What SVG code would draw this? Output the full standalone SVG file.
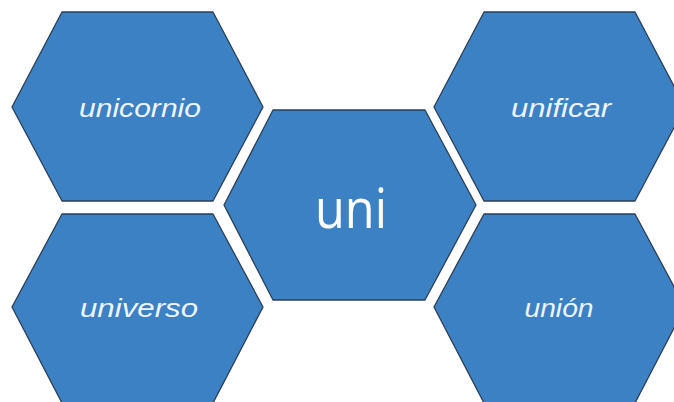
<svg xmlns="http://www.w3.org/2000/svg" width="674" height="402" viewBox="0 0 674 402">
<style>
.hex{fill:#3c81c4;stroke:#2b3f55;stroke-width:1.3;stroke-linejoin:round}
.lbl{font-family:"Liberation Sans",Arial,sans-serif;font-style:italic;font-size:26px;fill:#eef4fb;text-anchor:middle}
.main{font-family:"Open Sans","Liberation Sans",sans-serif;font-size:54px;fill:#ffffff;text-anchor:middle}
</style>
<rect width="674" height="402" fill="#ffffff"/>
<g id="connectors"></g>
<g id="unicornio">
<polygon class="hex" points="62,12 213,12 263,107 213,201 62,201 12,107"/>
<text class="lbl" x="140" y="117" textLength="122" lengthAdjust="spacingAndGlyphs">unicornio</text>
</g>
<g id="unificar">
<polygon class="hex" points="484,12 635,12 685,107 635,201 484,201 434,107"/>
<text class="lbl" x="561" y="117" textLength="100" lengthAdjust="spacingAndGlyphs">unificar</text>
</g>
<g id="uni">
<polygon class="hex" points="273,110 425,110 476,205 425,300 273,300 224,205"/>
<text class="main" x="351" y="228" textLength="72" lengthAdjust="spacingAndGlyphs">uni</text>
</g>
<g id="universo">
<polygon class="hex" points="62,214 213,214 263,307 213,403 62,403 12,307"/>
<text class="lbl" x="139" y="317" textLength="118" lengthAdjust="spacingAndGlyphs">universo</text>
</g>
<g id="union">
<polygon class="hex" points="484,214 635,214 685,307 635,403 484,403 434,307"/>
<text class="lbl" x="559" y="317" textLength="69" lengthAdjust="spacingAndGlyphs">unión</text>
</g>
</svg>
